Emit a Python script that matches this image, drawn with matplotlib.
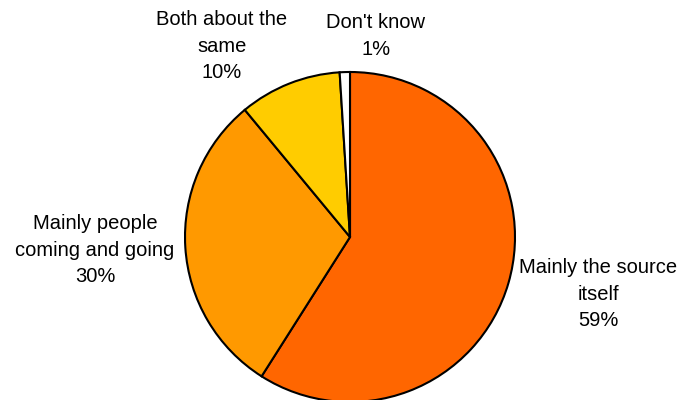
import matplotlib
matplotlib.use("Agg")
import matplotlib.pyplot as plt

plt.rcParams['font.family'] = ['Liberation Sans', 'DejaVu Sans']

categories = ["Mainly the source\nitself", "Mainly people\ncoming and going",
              "Both about the\nsame", "Don't know"]
shares = [59, 30, 10, 1]
colors = ["#FF6600", "#FF9900", "#FFCC00", "#FFFFFF"]
# label centres in pixel coords (y measured from the top)
label_pos = [(598, 294), (95, 250), (222, 46), (376, 36)]

W, H = 685, 400
fig = plt.figure(figsize=(W / 100, H / 100), dpi=100)
ax = fig.add_axes([0, 0, 1, 1])

ax.pie(shares, colors=colors, startangle=90, counterclock=False,
       center=(350, H - 237), radius=165, frame=True,
       wedgeprops=dict(edgecolor="black", linewidth=1.5))
ax.set_xlim(0, W)
ax.set_ylim(0, H)
ax.set_aspect("equal")
ax.axis("off")

for cat, val, (x, y) in zip(categories, shares, label_pos):
  ax.text(x, H - y, f"{cat}\n{val}%", ha="center", va="center",
          fontsize=14.5, linespacing=1.51, color="black")

fig.savefig("out.png", dpi=100)
